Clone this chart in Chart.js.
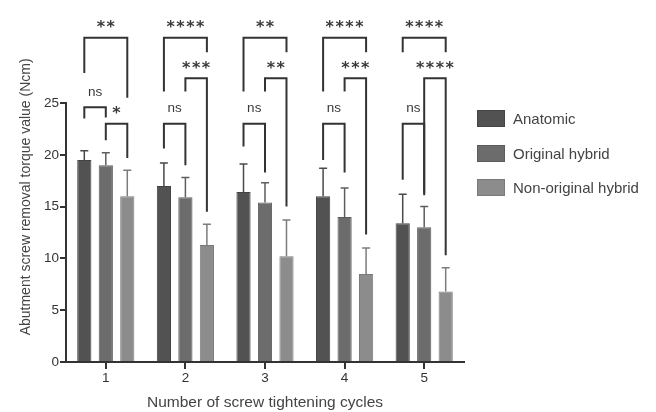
<!DOCTYPE html>
<html>
<head>
<meta charset="utf-8">
<script src="https://cdn.jsdelivr.net/npm/chart.js@4/dist/chart.umd.min.js"></script>
<style>
  html, body { margin: 0; padding: 0; background: #fff; }
  #wrap { position: relative; width: 656px; height: 412px; }
  #chart { position: absolute; left: 0; top: 0; }
  #legend { position: absolute; left: 477px; top: 110px; font: 15px 'Liberation Sans', Arial, sans-serif; color: #444; }
  .item { display: flex; align-items: center; height: 17px; margin-bottom: 17.5px; white-space: nowrap; }
  .sw { width: 28px; height: 17px; margin-right: 8px; box-sizing: border-box; }
</style>
</head>
<body>
<div id="wrap">
  <canvas id="chart" width="656" height="412"></canvas>
  <div id="legend"></div>
</div>
<script>
// Tightening cycles on the x axis
const categories = ['1', '2', '3', '4', '5'];
const seriesNames = ['Anatomic', 'Original hybrid', 'Non-original hybrid'];

// Mean removal torque (Ncm) and standard deviation per abutment type
const anatomicMean = [19.5, 17.0, 16.4, 16.0, 13.4];
const anatomicSD = [0.9, 2.2, 2.7, 2.7, 2.8];
const originalMean = [19.0, 15.9, 15.4, 14.0, 13.0];
const originalSD = [1.2, 1.9, 1.9, 2.8, 2.0];
const nonOriginalMean = [16.0, 11.3, 10.2, 8.5, 6.8];
const nonOriginalSD = [2.5, 2.0, 3.5, 2.5, 2.3];

const yTicks = [0, 5, 10, 15, 20, 25];

// Significance brackets: cycle index, pair of series, bar height (Ncm),
// where the left / right legs stop, and the label
const bracketCycle = [0, 0, 0, 1, 1, 1, 2, 2, 2, 3, 3, 3, 4, 4, 4];
const bracketFrom = [0, 1, 0, 0, 1, 0, 0, 1, 0, 0, 1, 0, 0, 1, 0];
const bracketTo = [1, 2, 2, 1, 2, 2, 1, 2, 2, 1, 2, 2, 1, 2, 2];
const bracketLevel = [24.6, 23.0, 31.3, 23.0, 27.4, 31.3, 23.0, 27.4, 31.3, 23.0, 27.4, 31.3, 23.0, 27.4, 31.3];
const bracketLeftEnd = [23.5, 21.4, 27.9, 20.6, 26.1, 26.1, 20.8, 26.1, 26.1, 19.5, 26.1, 26.1, 17.6, 16.1, 29.9];
const bracketRightEnd = [23.6, 19.7, 25.5, 19.0, 14.5, 29.9, 18.3, 15.0, 29.9, 18.3, 12.3, 29.9, 16.3, 10.3, 29.9];
const bracketLabel = ['ns', '*', '**', 'ns', '***', '****', 'ns', '**', '**', 'ns', '***', '****', 'ns', '****', '****'];

const means = [anatomicMean, originalMean, nonOriginalMean];
const sds = [anatomicSD, originalSD, nonOriginalSD];

// Styling
const FONT = "'Liberation Sans', Arial, Helvetica, sans-serif";
const fills = ['#525252', '#6c6c6c', '#8c8c8c'];
const edges = ['#444444', '#5c5c5c', '#7a7a7a'];
const whiskers = ['#4a4a4a', '#5e5e5e', '#7c7c7c'];
const INK = '#333333';

const legendEl = document.getElementById('legend');
seriesNames.forEach((name, i) => {
  const row = document.createElement('div');
  row.className = 'item';
  const sw = document.createElement('span');
  sw.className = 'sw';
  sw.style.background = fills[i];
  sw.style.border = '1px solid ' + edges[i];
  const tx = document.createElement('span');
  tx.textContent = name;
  row.appendChild(sw);
  row.appendChild(tx);
  legendEl.appendChild(row);
});

function drawCenteredText(ctx, text, x, cy, font, spacing) {
  ctx.save();
  ctx.font = font;
  if ('letterSpacing' in ctx) ctx.letterSpacing = spacing + 'px';
  ctx.textAlign = 'center';
  ctx.textBaseline = 'alphabetic';
  const m = ctx.measureText(text);
  const base = cy + (m.actualBoundingBoxAscent - m.actualBoundingBoxDescent) / 2;
  ctx.fillText(text, x + spacing / 2, base);
  ctx.restore();
}

const annotations = {
  id: 'annotations',
  afterDatasetsDraw(chart) {
    const ctx = chart.ctx;
    const y = chart.scales.y;

    // upward error bars (mean + SD)
    means.forEach((m, di) => {
      const meta = chart.getDatasetMeta(di);
      meta.data.forEach((bar, i) => {
        const top = y.getPixelForValue(m[i] + sds[di][i]);
        ctx.save();
        ctx.strokeStyle = whiskers[di];
        ctx.lineWidth = 1.5;
        ctx.beginPath();
        ctx.moveTo(bar.x, bar.y);
        ctx.lineTo(bar.x, top);
        ctx.moveTo(bar.x - 4, top);
        ctx.lineTo(bar.x + 4, top);
        ctx.stroke();
        ctx.restore();
      });
    });

    // comparison brackets with their labels
    bracketLabel.forEach((label, k) => {
      const g = bracketCycle[k];
      const x1 = chart.getDatasetMeta(bracketFrom[k]).data[g].x;
      const x2 = chart.getDatasetMeta(bracketTo[k]).data[g].x;
      const yTop = y.getPixelForValue(bracketLevel[k]);
      const yL = y.getPixelForValue(bracketLeftEnd[k]);
      const yR = y.getPixelForValue(bracketRightEnd[k]);
      ctx.save();
      ctx.strokeStyle = INK;
      ctx.lineWidth = 2;
      ctx.lineJoin = 'miter';
      ctx.beginPath();
      ctx.moveTo(x1, yL);
      ctx.lineTo(x1, yTop);
      ctx.lineTo(x2, yTop);
      ctx.lineTo(x2, yR);
      ctx.stroke();
      ctx.fillStyle = '#3a3a3a';
      const mid = (x1 + x2) / 2;
      if (label === 'ns') {
        drawCenteredText(ctx, label, mid, yTop - 15, '13.5px ' + FONT, 0);
      } else {
        drawCenteredText(ctx, label, mid, yTop - 13.5, "bold 16px 'DejaVu Sans', sans-serif", 1.5);
      }
      ctx.restore();
    });
  },
  afterDraw(chart) {
    // vertical axis title, centred on the span from the baseline to the top bracket
    const ctx = chart.ctx;
    const y = chart.scales.y;
    const top = y.getPixelForValue(Math.max(...bracketLevel));
    const cy = (chart.chartArea.bottom + top) / 2 - 3;
    ctx.save();
    ctx.translate(26, cy);
    ctx.rotate(-Math.PI / 2);
    ctx.font = '14px ' + FONT;
    ctx.fillStyle = '#444';
    ctx.textAlign = 'center';
    ctx.textBaseline = 'middle';
    ctx.fillText('Abutment screw removal torque value (Ncm)', 0, 0);
    ctx.restore();
  }
};

new Chart(document.getElementById('chart'), {
  type: 'bar',
  data: {
    labels: categories,
    datasets: seriesNames.map((name, i) => ({
      label: name,
      data: means[i],
      backgroundColor: fills[i],
      borderColor: edges[i],
      borderWidth: 1,
      categoryPercentage: 0.81,
      barPercentage: 0.66
    }))
  },
  options: {
    responsive: false,
    animation: false,
    devicePixelRatio: 1,
    layout: { padding: { top: 103, right: 192, left: 0, bottom: 0 } },
    plugins: { legend: { display: false }, tooltip: { enabled: false } },
    scales: {
      x: {
        afterFit: s => { s.height = 50; },
        grid: { offset: false, drawOnChartArea: false, drawTicks: true, tickLength: 7, color: INK, lineWidth: 2 },
        border: { color: INK, width: 2 },
        ticks: { color: '#333', font: { family: FONT, size: 13.5 }, padding: 1 },
        title: { display: true, text: 'Number of screw tightening cycles', color: '#444',
                 font: { family: FONT, size: 15.5 }, padding: { top: 0, bottom: 0 } }
      },
      y: {
        min: 0,
        max: 25,
        afterFit: s => { s.width = 66; },
        afterBuildTicks: s => { s.ticks = yTicks.map(v => ({ value: v })); },
        grid: { drawOnChartArea: false, drawTicks: true, tickLength: 6, color: INK, lineWidth: 2 },
        border: { color: INK, width: 2 },
        ticks: { color: '#333', font: { family: FONT, size: 13.5 }, padding: 1 }
      }
    }
  },
  plugins: [annotations]
});
</script>
</body>
</html>
